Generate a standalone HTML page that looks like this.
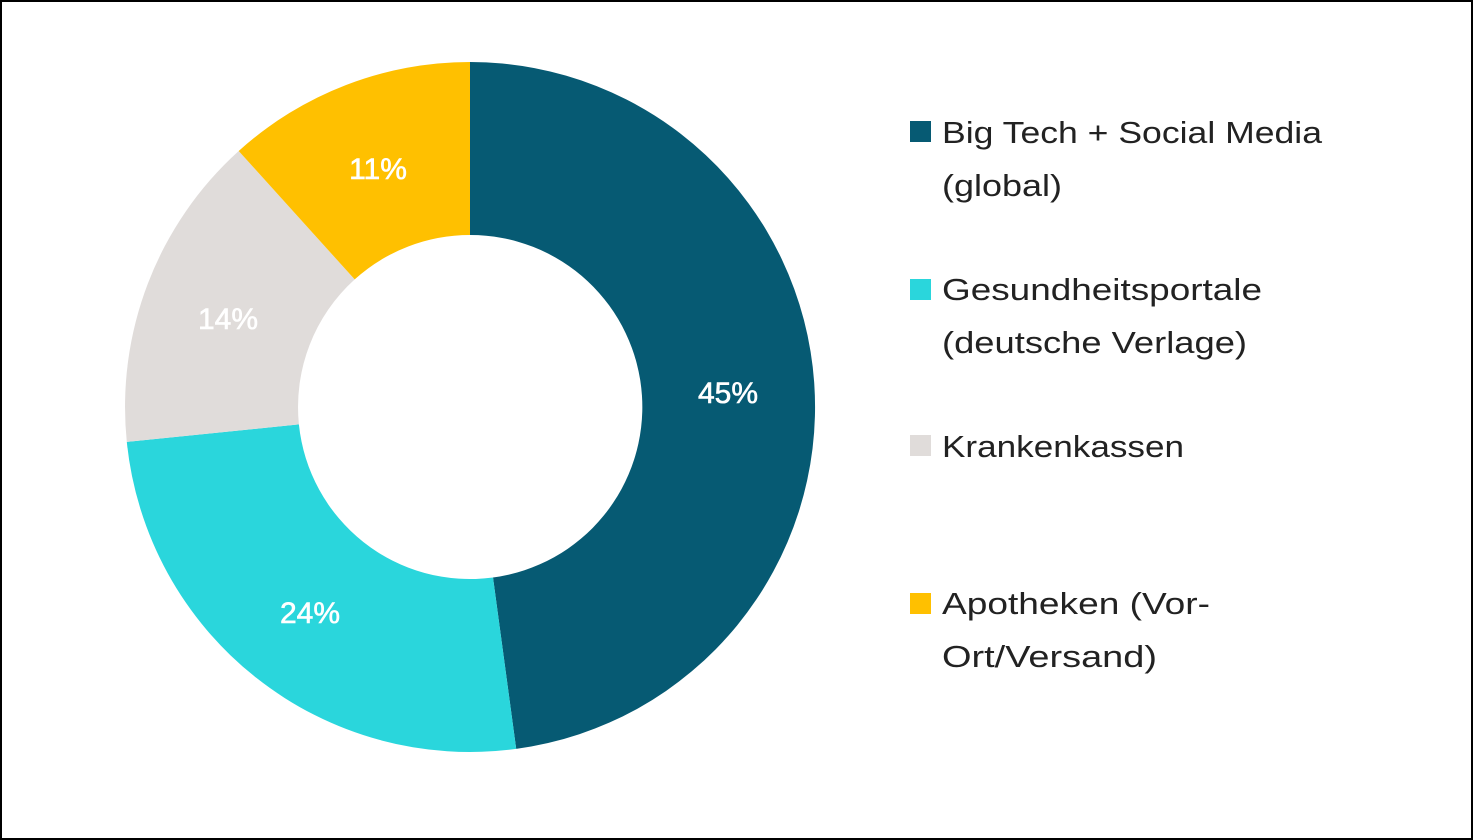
<!DOCTYPE html>
<html><head><meta charset="utf-8"><style>
html,body{margin:0;padding:0;background:#fff}
svg{display:block}
text{font-family:"Liberation Sans",sans-serif}
</style></head><body>
<svg width="1473" height="840" viewBox="0 0 1473 840" xmlns="http://www.w3.org/2000/svg">
<rect x="1" y="1" width="1471" height="838" fill="#fff" stroke="#000" stroke-width="2"/>
<path d="M470,62 A345,345 0 0 1 516.2,748.9 L493,577.5 A172,172 0 0 0 470,235 Z" fill="#065a73"/>
<path d="M516.2,748.9 A345,345 0 0 1 126.8,441.9 L298.9,424.4 A172,172 0 0 0 493,577.5 Z" fill="#2ad6dc"/>
<path d="M126.8,441.9 A345,345 0 0 1 238.7,151 L354.7,279.4 A172,172 0 0 0 298.9,424.4 Z" fill="#e0dcda"/>
<path d="M238.7,151 A345,345 0 0 1 470,62 L470,235 A172,172 0 0 0 354.7,279.4 Z" fill="#ffc000"/>
<g fill="#fff" font-size="30" text-anchor="middle" stroke="#fff" stroke-width="0.6">
<text x="728" y="403">45%</text>
<text x="310" y="623">24%</text>
<text x="228" y="329">14%</text>
<text x="378" y="179">11%</text>
</g>
<rect x="910" y="121" width="21" height="21" fill="#065a73"/>
<rect x="910" y="279" width="21" height="21" fill="#2ad6dc"/>
<rect x="910" y="435" width="21" height="21" fill="#e0dcda"/>
<rect x="910" y="593" width="21" height="21" fill="#ffc000"/>
<g fill="#222" font-size="31">
<text x="942" y="143" textLength="380" lengthAdjust="spacingAndGlyphs">Big Tech + Social Media</text>
<text x="942" y="196" textLength="120" lengthAdjust="spacingAndGlyphs">(global)</text>
<text x="942" y="300" textLength="320" lengthAdjust="spacingAndGlyphs">Gesundheitsportale</text>
<text x="942" y="353" textLength="305" lengthAdjust="spacingAndGlyphs">(deutsche Verlage)</text>
<text x="942" y="457" textLength="242" lengthAdjust="spacingAndGlyphs">Krankenkassen</text>
<text x="942" y="614" textLength="268" lengthAdjust="spacingAndGlyphs">Apotheken (Vor-</text>
<text x="942" y="667" textLength="215" lengthAdjust="spacingAndGlyphs">Ort/Versand)</text>
</g>
</svg>
</body></html>
